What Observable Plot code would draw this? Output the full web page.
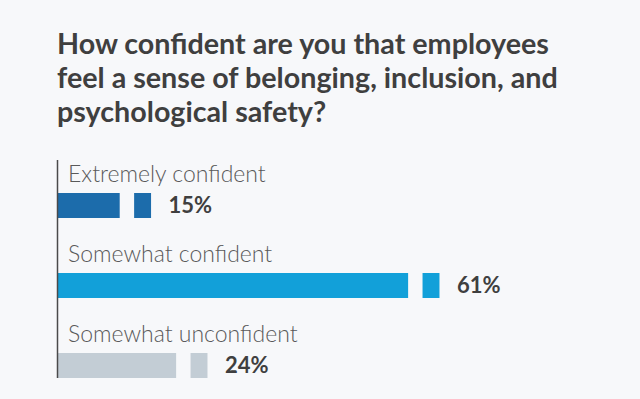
<!DOCTYPE html>
<html>
<head>
<meta charset="utf-8">
<script src="https://cdn.jsdelivr.net/npm/d3@7"></script>
<script src="https://cdn.jsdelivr.net/npm/@observablehq/plot@0.6"></script>
<style>
  html, body { margin: 0; padding: 0; background: #f7f8fa; }
  body { width: 640px; height: 399px; overflow: hidden; font-family: Lato, "Open Sans", sans-serif; }
  #title { height: 140px; box-sizing: border-box; padding: 26px 0 0 57px; margin: 0;
    font-size: 28.7px; line-height: 34px; font-weight: 700; color: #3f3f3f; }
  #chart svg { display: block; }
</style>
</head>
<body>
<h2 id="title">How confident are you that employees<br>feel a sense of belonging, inclusion, and<br>psychological safety?</h2>
<div id="chart"></div>
<script>
const categories = ["Extremely confident", "Somewhat confident", "Somewhat unconfident"];
const values = [15, 61, 24];
const colors = ["#1c6cab", "#12a0d9", "#c3cdd5"];
const labels = ["15%", "61%", "24%"];

const CUT = 5.0;   // end of main bar, in % before value
const SQ = 2.7;    // width of end square, in %

const data = categories.map((c, i) => ({category: c, value: values[i], color: colors[i], label: labels[i]}));

const chart = Plot.plot({
  width: 640,
  height: 259,
  marginTop: 20,
  marginBottom: 21,
  marginLeft: 0,
  marginRight: 0,
  style: {background: "transparent", fontFamily: "Lato, sans-serif"},
  x: {domain: [0, 100], range: [57, 684], axis: null},
  y: {type: "band", domain: categories, range: [53, 238], paddingInner: 0.6875, paddingOuter: 0, axis: null},
  marks: [
    Plot.barX(data, {x1: 0, x2: d => d.value - CUT, y: "category", fill: d => d.color}),
    Plot.barX(data, {x1: d => d.value - SQ, x2: "value", y: "category", fill: d => d.color}),
    Plot.ruleX([0], {stroke: "#4a4a4a", strokeWidth: 1.5}),
    Plot.text(data, {x: 0, y: "category", text: "category", dx: 10.5, dy: -31.5, textAnchor: "start",
      fontSize: 23, fontWeight: 300, fill: "#5a5a5a"}),
    Plot.text(data, {x: "value", y: "category", text: "label", dx: 17, textAnchor: "start",
      fontSize: 22, fontWeight: 700, fill: "#3f3f3f"})
  ]
});
document.getElementById("chart").appendChild(chart);
</script>
</body>
</html>
